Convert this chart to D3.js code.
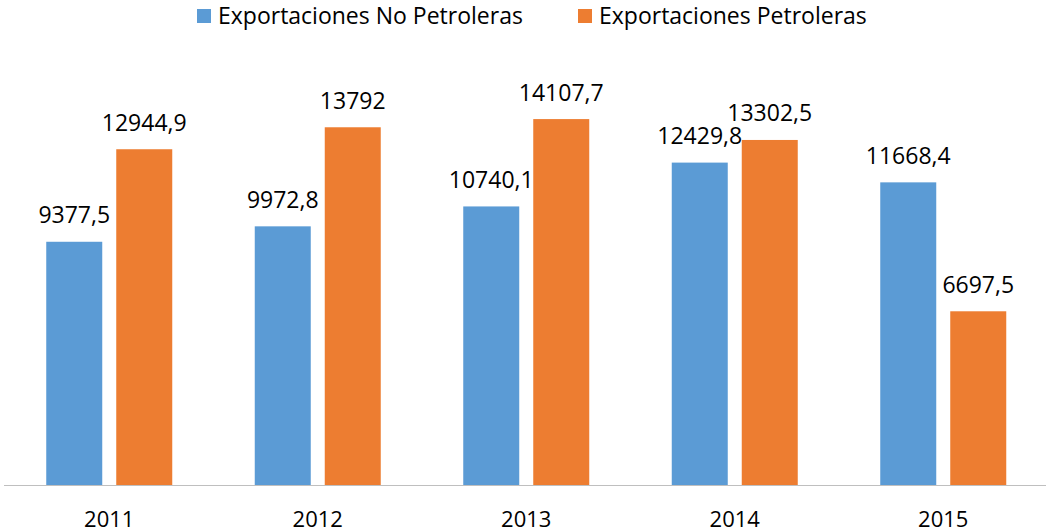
<!DOCTYPE html>
<html>
<head>
<meta charset="utf-8">
<script src="https://cdn.jsdelivr.net/npm/d3@7"></script>
<style>
  body { margin: 0; background: #fff; }
  svg text { font-family: "Open Sans", sans-serif; fill: #000; }
</style>
</head>
<body>
<div id="chartDivId"></div>
<script>
// Data
const years = ["2011", "2012", "2013", "2014", "2015"];
const series = ["Exportaciones No Petroleras", "Exportaciones Petroleras"];
const noPetroleras = [9377.5, 9972.8, 10740.1, 12429.8, 11668.4];
const petroleras = [12944.9, 13792, 14107.7, 13302.5, 6697.5];
const valueLabels = [
    ["9377,5", "9972,8", "10740,1", "12429,8", "11668,4"],
    ["12944,9", "13792", "14107,7", "13302,5", "6697,5"]
];
const colors = ["#5B9BD5", "#ED7D31"];

const width = 1046, height = 532;
const baseY = 485;

var svg = d3.select("#chartDivId")
    .append("svg")
    .attr("width", width)
    .attr("height", height);

// Scales
var x0 = d3.scaleBand().domain(years).range([5, 1047.5]).paddingInner(0).paddingOuter(0);
var x1 = d3.scaleBand().domain(series).range([41.25, 167.25]).paddingInner(0.2).paddingOuter(0);
var y = d3.scaleLinear().domain([0, 16000]).range([baseY, 70]);

var values = [noPetroleras, petroleras];

// Bars
series.forEach(function(s, si) {
    svg.selectAll(".bar" + si)
        .data(values[si])
        .enter()
        .append("rect")
        .attr("class", "bar" + si)
        .attr("x", function(d, i) { return x0(years[i]) + x1(s); })
        .attr("y", function(d) { return y(d); })
        .attr("width", x1.bandwidth())
        .attr("height", function(d) { return y(0) - y(d); })
        .style("fill", colors[si]);

    svg.selectAll(".label" + si)
        .data(values[si])
        .enter()
        .append("text")
        .attr("class", "label" + si)
        .attr("x", function(d, i) { return x0(years[i]) + x1(s) + x1.bandwidth() / 2; })
        .attr("y", function(d) { return y(d) - 18.5; })
        .attr("text-anchor", "middle")
        .style("font-size", "23px")
        .text(function(d, i) { return valueLabels[si][i]; });
});

// X axis
var xAxis = d3.axisBottom(x0).tickSize(0).tickPadding(26);
var gx = svg.append("g")
    .attr("transform", "translate(0," + baseY + ")")
    .call(xAxis);
gx.select(".domain").attr("stroke", "#bfbfbf").attr("d", "M4,0.5H1046");
gx.selectAll("text")
    .style("font-size", "22px")
    .style("font-family", "'Open Sans', sans-serif")
    .attr("fill", "#000");

// Legend
var legendX = [197, 578];
var legend = svg.selectAll(".legend")
    .data(series)
    .enter().append("g")
    .attr("class", "legend")
    .attr("transform", function(d, i) { return "translate(" + legendX[i] + ",0)"; });

legend.append("rect")
    .attr("x", 0)
    .attr("y", 9)
    .attr("width", 14)
    .attr("height", 14)
    .style("fill", function(d, i) { return colors[i]; });

legend.append("text")
    .attr("x", 21)
    .attr("y", 24)
    .style("font-size", "23px")
    .text(function(d) { return d; });
</script>
</body>
</html>
